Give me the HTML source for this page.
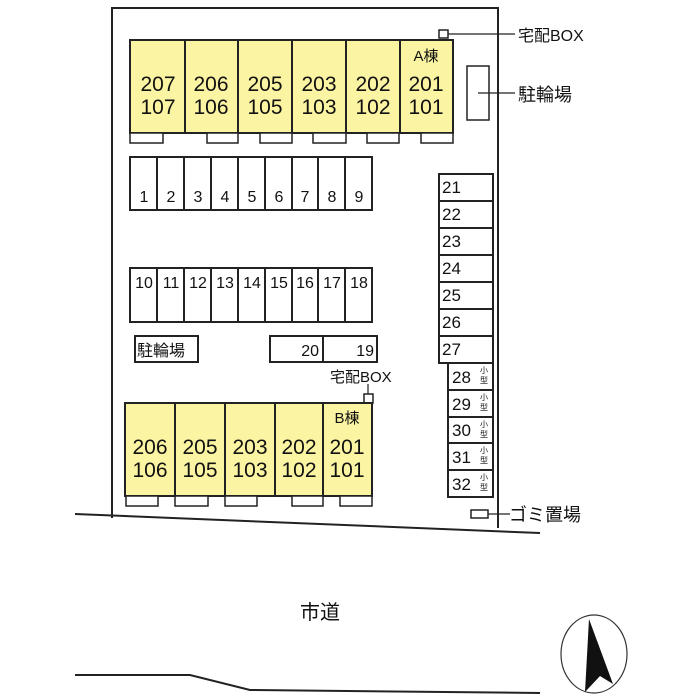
<!DOCTYPE html>
<html><head><meta charset="utf-8"><style>
html,body{margin:0;padding:0;background:#fff;}
svg{display:block;font-family:"Liberation Sans","Noto Sans CJK JP",sans-serif;}
</style></head><body>
<svg width="700" height="700" viewBox="0 0 700 700" xmlns="http://www.w3.org/2000/svg">
<g fill="none" stroke="#222" stroke-width="2">
<!-- lot -->
<polyline points="112,518 112,8 498,8 498,528"/>
<line x1="75" y1="514" x2="540" y2="533"/>
<polyline points="75,675 190,675 250,690 540,693"/>
</g>
<!-- A building -->
<g stroke="#222" stroke-width="2">
<rect x="130" y="40" width="323" height="93" fill="#fbf4a2"/>
<line x1="185" y1="40" x2="185" y2="133"/><line x1="238" y1="40" x2="238" y2="133"/>
<line x1="292" y1="40" x2="292" y2="133"/><line x1="346" y1="40" x2="346" y2="133"/>
<line x1="400" y1="40" x2="400" y2="133"/>
</g>
<g fill="#fff" stroke="#222" stroke-width="1.5">
<rect x="130" y="133" width="33" height="10"/><rect x="207" y="133" width="31" height="10"/>
<rect x="260" y="133" width="32" height="10"/><rect x="313" y="133" width="33" height="10"/>
<rect x="367" y="133" width="32" height="10"/><rect x="421" y="133" width="32" height="10"/>
</g>
<g font-size="21" fill="#111" text-anchor="middle">
<text x="158" y="91">207</text><text x="158" y="114">107</text>
<text x="211" y="91">206</text><text x="211" y="114">106</text>
<text x="265" y="91">205</text><text x="265" y="114">105</text>
<text x="319" y="91">203</text><text x="319" y="114">103</text>
<text x="373" y="91">202</text><text x="373" y="114">102</text>
<text x="426" y="91">201</text><text x="426" y="114">101</text>
</g>
<text x="426" y="61" font-size="15" text-anchor="middle" fill="#111">A棟</text>
<!-- A BOX & bikes -->
<g fill="#fff" stroke="#222" stroke-width="1.5">
<rect x="439" y="30" width="9" height="8"/>
<rect x="467" y="66" width="22" height="54"/>
</g>
<line x1="448" y1="34" x2="515" y2="34" stroke="#222" stroke-width="1.2"/>
<line x1="478" y1="93" x2="515" y2="93" stroke="#222" stroke-width="1.2"/>
<text x="518" y="41" font-size="16" fill="#111">宅配BOX</text>
<text x="518" y="101" font-size="18" fill="#111">駐輪場</text>
<!-- parking 1-9 -->
<g fill="#fff" stroke="#222" stroke-width="2">
<rect x="130" y="157" width="242" height="53"/>
<rect x="130" y="268" width="242" height="54"/>
</g>
<g stroke="#222" stroke-width="2">
<line x1="157" y1="157" x2="157" y2="210"/><line x1="184" y1="157" x2="184" y2="210"/><line x1="211" y1="157" x2="211" y2="210"/><line x1="238" y1="157" x2="238" y2="210"/><line x1="265" y1="157" x2="265" y2="210"/><line x1="292" y1="157" x2="292" y2="210"/><line x1="318" y1="157" x2="318" y2="210"/><line x1="345" y1="157" x2="345" y2="210"/>
<line x1="157" y1="268" x2="157" y2="322"/><line x1="184" y1="268" x2="184" y2="322"/><line x1="211" y1="268" x2="211" y2="322"/><line x1="238" y1="268" x2="238" y2="322"/><line x1="265" y1="268" x2="265" y2="322"/><line x1="292" y1="268" x2="292" y2="322"/><line x1="318" y1="268" x2="318" y2="322"/><line x1="345" y1="268" x2="345" y2="322"/>
</g>
<g font-size="16" fill="#111" text-anchor="middle">
<text x="144" y="202">1</text><text x="171" y="202">2</text><text x="198" y="202">3</text><text x="225" y="202">4</text><text x="252" y="202">5</text><text x="279" y="202">6</text><text x="305" y="202">7</text><text x="332" y="202">8</text><text x="359" y="202">9</text>
<text x="144" y="288">10</text><text x="171" y="288">11</text><text x="198" y="288">12</text><text x="225" y="288">13</text><text x="252" y="288">14</text><text x="279" y="288">15</text><text x="305" y="288">16</text><text x="332" y="288">17</text><text x="359" y="288">18</text>
</g>
<!-- 駐輪場 & 20/19 -->
<rect x="135" y="336" width="63" height="26" fill="#fff" stroke="#222" stroke-width="2"/>
<text x="137" y="356" font-size="16" fill="#111">駐輪場</text>
<rect x="270" y="336" width="107" height="26" fill="#fff" stroke="#222" stroke-width="2"/>
<line x1="323" y1="336" x2="323" y2="362" stroke="#222" stroke-width="2"/>
<text x="319" y="356" font-size="16" fill="#111" text-anchor="end">20</text>
<text x="374" y="356" font-size="16" fill="#111" text-anchor="end">19</text>
<!-- B BOX -->
<text x="330" y="382" font-size="15" fill="#111">宅配BOX</text>
<line x1="368" y1="384" x2="368" y2="394" stroke="#222" stroke-width="1.2"/>
<rect x="364" y="394" width="9" height="9" fill="#fff" stroke="#222" stroke-width="1.5"/>
<!-- B building -->
<g stroke="#222" stroke-width="2">
<rect x="125" y="403" width="247" height="93" fill="#fbf4a2"/>
<line x1="175" y1="403" x2="175" y2="496"/><line x1="225" y1="403" x2="225" y2="496"/>
<line x1="275" y1="403" x2="275" y2="496"/><line x1="323" y1="403" x2="323" y2="496"/>
</g>
<g fill="#fff" stroke="#222" stroke-width="1.5">
<rect x="126" y="496" width="32" height="10"/><rect x="175" y="496" width="33" height="10"/>
<rect x="225" y="496" width="32" height="10"/><rect x="292" y="496" width="31" height="10"/>
<rect x="340" y="496" width="32" height="10"/>
</g>
<g font-size="21" fill="#111" text-anchor="middle">
<text x="150" y="454">206</text><text x="150" y="477">106</text>
<text x="200" y="454">205</text><text x="200" y="477">105</text>
<text x="250" y="454">203</text><text x="250" y="477">103</text>
<text x="299" y="454">202</text><text x="299" y="477">102</text>
<text x="347" y="454">201</text><text x="347" y="477">101</text>
</g>
<text x="347" y="423" font-size="15" text-anchor="middle" fill="#111">B棟</text>
<!-- 21-27 -->
<g fill="#fff" stroke="#222" stroke-width="2">
<rect x="439" y="174" width="54" height="27"/><rect x="439" y="201" width="54" height="27"/>
<rect x="439" y="228" width="54" height="27"/><rect x="439" y="255" width="54" height="27"/>
<rect x="439" y="282" width="54" height="27"/><rect x="439" y="309" width="54" height="27"/>
<rect x="439" y="336" width="54" height="27"/>
<rect x="448" y="363" width="45" height="27"/><rect x="448" y="390" width="45" height="27"/>
<rect x="448" y="417" width="45" height="26"/><rect x="448" y="443" width="45" height="27"/>
<rect x="448" y="470" width="45" height="27"/>
</g>
<g font-size="17" fill="#111">
<text x="442" y="193">21</text><text x="442" y="220">22</text><text x="442" y="247">23</text><text x="442" y="274">24</text><text x="442" y="301">25</text><text x="442" y="328">26</text><text x="442" y="355">27</text>
<text x="452" y="383">28</text><text x="452" y="410">29</text><text x="452" y="436">30</text><text x="452" y="463">31</text><text x="452" y="490">32</text>
</g>
<g font-size="8" fill="#111" text-anchor="middle">
<text x="484" y="373">小</text><text x="484" y="383">型</text>
<text x="484" y="400">小</text><text x="484" y="410">型</text>
<text x="484" y="427">小</text><text x="484" y="437">型</text>
<text x="484" y="453">小</text><text x="484" y="463">型</text>
<text x="484" y="480">小</text><text x="484" y="490">型</text>
</g>
<!-- gomi -->
<rect x="471" y="510" width="17" height="8" fill="#fff" stroke="#222" stroke-width="1.5"/>
<line x1="488" y1="514" x2="510" y2="514" stroke="#222" stroke-width="1.2"/>
<text x="509" y="521" font-size="18" fill="#111">ゴミ置場</text>
<!-- road -->
<text x="300" y="619" font-size="20" fill="#111">市道</text>
<!-- north -->
<ellipse cx="594" cy="654" rx="33" ry="39" fill="none" stroke="#333" stroke-width="1.2"/>
<polygon points="589,619 613,684 600,676 585,692" fill="#111"/>
</svg>
</body></html>
